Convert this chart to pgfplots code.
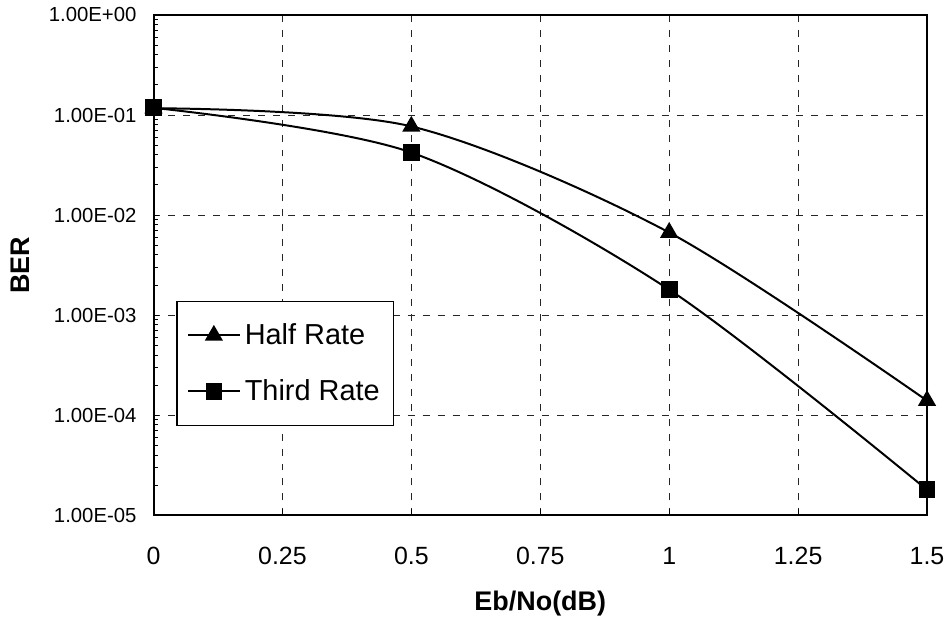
\documentclass[border=0pt]{standalone}
\usepackage{pgfplots}
\pgfplotsset{compat=1.18}
\usepackage{fontspec}
\setmainfont{Liberation Sans}
\begin{document}
\begin{tikzpicture}
\begin{axis}[
    name=ax,
    width=388pt, height=251pt,
    scale only axis,
    ymode=log,
    xmin=0, xmax=1.5,
    ymin=1e-5, ymax=1,
    xtick={0,0.25,0.5,0.75,1,1.25,1.5},
    xticklabels={0,0.25,0.5,0.75,1,1.25,1.5},
    ytick={1e-5,1e-4,1e-3,1e-2,1e-1,1},
    yticklabels={1.00E-05,1.00E-04,1.00E-03,1.00E-02,1.00E-01,1.00E+00},
    minor ytick={2e-5,3e-5,4e-5,5e-5,6e-5,7e-5,8e-5,9e-5,
                 2e-4,3e-4,4e-4,5e-4,6e-4,7e-4,8e-4,9e-4,
                 2e-3,3e-3,4e-3,5e-3,6e-3,7e-3,8e-3,9e-3,
                 2e-2,3e-2,4e-2,5e-2,6e-2,7e-2,8e-2,9e-2,
                 0.2,0.3,0.4,0.5,0.6,0.7,0.8,0.9},
    xticklabel style={font=\fontsize{12.5}{14}\selectfont, anchor=center, yshift=-20.5pt},
    yticklabel style={font=\fontsize{10.2}{12}\selectfont, anchor=east, xshift=-5pt},
    tick pos=left,
    tick align=inside,
    major tick length=3pt,
    minor tick length=2.5pt,
    tick style={black, line width=0.5pt},
    grid=major,
    major grid style={black!85, dash pattern=on 3.5pt off 4pt, line width=0.5pt},
    axis line style={line width=1pt},
    xlabel={Eb/No(dB)},
    ylabel={BER},
    label style={font=\fontsize{13.5}{16}\selectfont\bfseries},
    xlabel style={at={(axis description cs:0.5,-0.1753)}, anchor=center},
    ylabel style={at={(axis description cs:-0.1727,0.5)}, anchor=center},
    legend style={at={(0.0296,0.179)}, anchor=south west, draw=black,
        line width=0.6pt, fill=white,
        font=\fontsize{14.5}{17}\selectfont, row sep=12pt,
        inner xsep=5pt, inner ysep=9pt},
    legend cell align=left,
    legend image code/.code={
        \draw[mark repeat=2, mark phase=2, #1]
            plot coordinates {(0pt,0pt) (13pt,0pt) (26pt,0pt)};
    },
]
\addplot[black, line width=1pt, smooth, mark=triangle*, mark size=4.3pt] coordinates {
    (0,0.117) (0.5,0.077) (1,0.0067) (1.5,0.00014)
};
\addlegendentry{Half Rate}
\addplot[black, line width=1pt, smooth, mark=square*, mark size=3.7pt] coordinates {
    (0,0.118) (0.5,0.0422) (1,0.0018) (1.5,0.000018)
};
\addlegendentry{Third Rate}
\end{axis}
\path ([shift={(-77pt,-54pt)}]ax.south west) rectangle ([shift={(10.5pt,7.5pt)}]ax.north east);
\end{tikzpicture}
\end{document}
